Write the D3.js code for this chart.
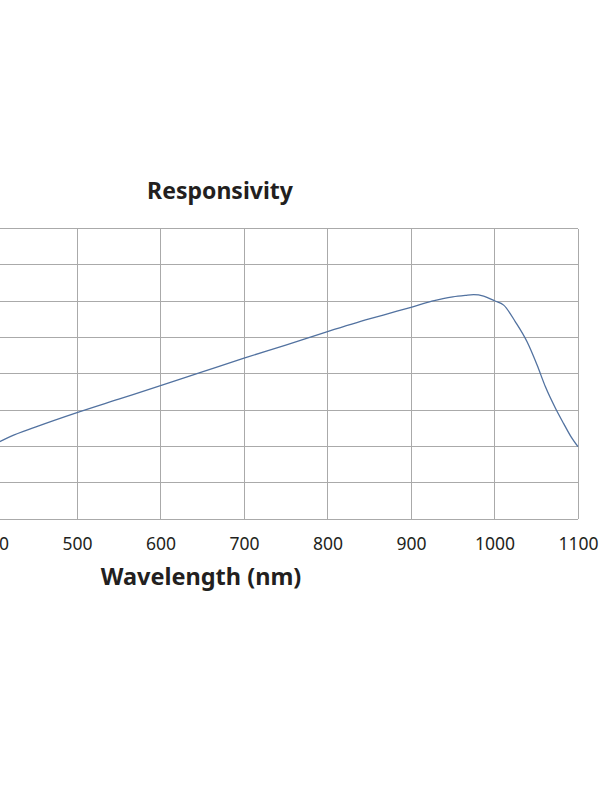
<!DOCTYPE html>
<html>
<head>
<meta charset="utf-8">
<script src="https://cdn.jsdelivr.net/npm/d3@7"></script>
<style>
  body { margin: 0; background: #fff; }
  svg { display: block; }
</style>
</head>
<body>
<svg id="chart" width="600" height="800"></svg>
<script>
// responsivity curve (A/W)
const wavelengths = [400, 420, 450, 500, 550, 600, 650, 700, 750, 800, 850, 875, 900, 925, 950, 965, 975, 987, 1000, 1011, 1025, 1039, 1051, 1061, 1073, 1083, 1091, 1100];
const responsivity = [0.204, 0.227, 0.253, 0.293, 0.330, 0.367, 0.405, 0.443, 0.479, 0.516, 0.551, 0.567, 0.583, 0.600, 0.612, 0.616, 0.618, 0.614, 0.601, 0.589, 0.543, 0.488, 0.424, 0.364, 0.305, 0.262, 0.229, 0.199];
const xTicks = [400, 500, 600, 700, 800, 900, 1000, 1100];
const yTicks = [0, 0.1, 0.2, 0.3, 0.4, 0.5, 0.6, 0.7, 0.8];

const title = "Responsivity";
const xLabel = "Wavelength (nm)";

const svg = d3.select("#chart");
const plot_left = -6.5, plot_right = 578; // plot is cut on the left edge
const plot_top = 228.5, plot_bottom = 519;
const gridColor = "#aaaaaa";
const lineColor = "#5272a0";
const textColor = "#231f20";

const data = wavelengths.map((w, i) => ({ w: w, r: responsivity[i] }));

let x = d3.scaleLinear().domain([400, 1100]).range([plot_left, plot_right]);
let y = d3.scaleLinear().domain([0, 0.8]).range([plot_bottom, plot_top]);

// grid
svg.append("g")
  .selectAll("line")
  .data(xTicks)
  .join("line")
  .attr("x1", (d) => x(d)).attr("x2", (d) => x(d))
  .attr("y1", plot_top).attr("y2", plot_bottom)
  .attr("stroke", gridColor)
  .attr("stroke-width", 1)
  .attr("shape-rendering", "crispEdges");

svg.append("g")
  .selectAll("line")
  .data(yTicks)
  .join("line")
  .attr("x1", plot_left).attr("x2", plot_right)
  .attr("y1", (d) => y(d)).attr("y2", (d) => y(d))
  .attr("stroke", gridColor)
  .attr("stroke-width", 1)
  .attr("shape-rendering", "crispEdges");

// x axis labels
const xAxis = svg.append("g")
  .attr("transform", `translate(0, ${plot_bottom})`)
  .call(d3.axisBottom(x).tickValues(xTicks).tickSize(0).tickPadding(19).tickFormat(d3.format("d")));
xAxis.select(".domain").remove();
xAxis.selectAll("text")
  .attr("font-family", "'Noto Sans', sans-serif")
  .attr("font-size", "17.5px")
  .attr("fill", textColor);

// curve
svg.append("path")
  .datum(data)
  .attr("fill", "none")
  .attr("stroke", lineColor)
  .attr("stroke-width", 1.3)
  .attr("d", d3.line().x((d) => x(d.w)).y((d) => y(d.r)).curve(d3.curveMonotoneX));

svg.append("text")
  .attr("x", 220)
  .attr("y", 199)
  .attr("text-anchor", "middle")
  .attr("font-family", "'Noto Sans', sans-serif")
  .attr("font-weight", "bold")
  .attr("font-size", "23px")
  .attr("fill", textColor)
  .text(title);

svg.append("text")
  .attr("x", 201)
  .attr("y", 585)
  .attr("text-anchor", "middle")
  .attr("font-family", "'Noto Sans', sans-serif")
  .attr("font-weight", "bold")
  .attr("font-size", "23.5px")
  .attr("fill", textColor)
  .text(xLabel);
</script>
</body>
</html>
